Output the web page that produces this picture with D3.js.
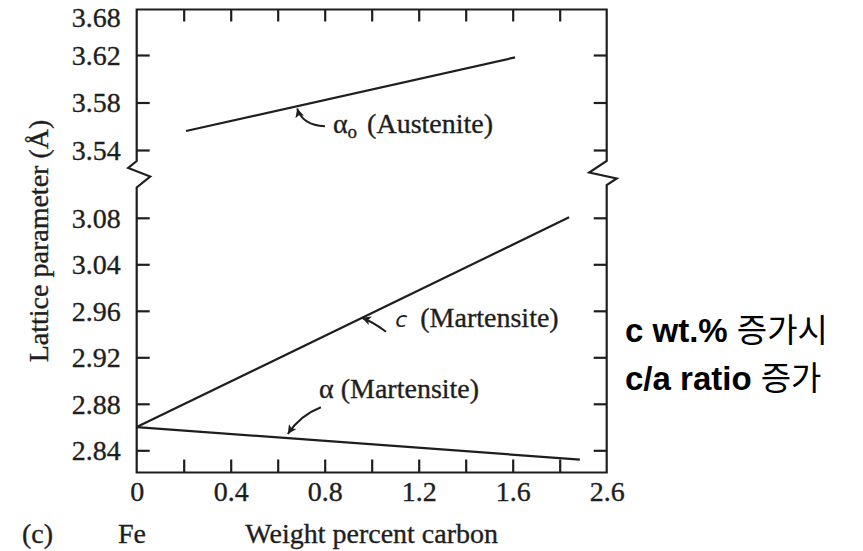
<!DOCTYPE html>
<html>
<head>
<meta charset="utf-8">
<script src="https://cdn.jsdelivr.net/npm/d3@7/dist/d3.min.js"></script>
<style>
  html, body { margin: 0; padding: 0; background: #ffffff; }
  svg { display: block; }
  .serif { font-family: "Liberation Serif", "DejaVu Serif", serif; fill: #1e1e1e; stroke: #1e1e1e; stroke-width: 0.35px; }
</style>
</head>
<body>
<svg id="chart" width="863" height="551"></svg>
<script>
// ---------------- data ----------------
const xTickValues = [0, 0.4, 0.8, 1.2, 1.6, 2.0];
const xTickLabels = ["0", "0.4", "0.8", "1.2", "1.6", "2.6"];
const xMinorTicks = [0.2, 0.4, 0.6, 0.8, 1.0, 1.2, 1.4, 1.6, 1.8];

const yLowerTicks = [2.84, 2.88, 2.92, 2.96, 3.04, 3.08];
const yUpperTicks = [3.54, 3.58, 3.62, 3.68];
const yTickLabels = ["2.84", "2.88", "2.92", "2.96", "3.04", "3.08", "3.54", "3.58", "3.62", "3.68"];

// series: [x (wt% C), lattice parameter (Å)]
const austenite   = [[0.21, 3.556], [1.61, 3.618]];
const cMartensite = [[0, 2.86], [1.84, 3.083]];
const aMartensite = [[0, 2.86], [1.886, 2.832]];

// annotation anchors (data units)
const annAustenite = { text: [0.835, 3.554], tail: [0.801, 3.560], ctrl: [0.704, 3.561], tip: [0.683, 3.575] };
const annCMart     = { text: [1.10, 2.946], tail: [1.061, 2.942], ctrl: [1.00, 2.951], tip: [0.958, 2.954] };
const annAMart     = { text: [0.776, 2.885], tail: [0.784, 2.877], ctrl: [0.695, 2.870], tip: [0.643, 2.854] };

const noteLines = [["c wt.% ", "증가시"], ["c/a ratio ", "증가"]];

// ---------------- layout ----------------
const L = 136.7, R = 606.7, T = 9.5, B = 472.5;
const svg = d3.select("#chart");

const x = d3.scaleLinear().domain([0, 2.0]).range([L, R]);
const lowerRange = d3.range(yLowerTicks.length).map(i => 450.3 - i * 46.5);
const upperRange = [150, 102.5, 55, T];
const y = d3.scaleLinear()
  .domain(yLowerTicks.concat(yUpperTicks))
  .range(lowerRange.concat(upperRange));

const ink = "#1e1e1e";
const FS = 28;

// frame with axis breaks
const brkTop = 161, brkBot = 187.5;
const frame = d3.path();
frame.moveTo(L, T);
frame.lineTo(L, brkTop);
frame.lineTo(L - 8.5, 168);
frame.lineTo(L + 13.5, 176.5);
frame.lineTo(L, brkBot);
frame.lineTo(L, B);
frame.lineTo(R, B);
frame.lineTo(R, brkBot - 2.5);
frame.lineTo(R + 10, 178.5);
frame.lineTo(R - 17.5, 172.5);
frame.lineTo(R, brkTop);
frame.lineTo(R, T);
frame.closePath();
svg.append("path").attr("d", frame.toString())
  .attr("fill", "none").attr("stroke", ink).attr("stroke-width", 2.2)
  .attr("stroke-linejoin", "miter");

// y axis (left) - inward ticks, labels
const yTicksAll = yLowerTicks.concat(yUpperTicks);
const yAxisLeft = d3.axisLeft(y)
  .tickValues(yTicksAll)
  .tickFormat((d, i) => yTickLabels[i])
  .tickSize(-13).tickPadding(16);
const gyl = svg.append("g").attr("transform", `translate(${L},0)`).call(yAxisLeft);
gyl.select(".domain").remove();
gyl.selectAll(".tick line").attr("stroke", ink).attr("stroke-width", 2.2)
  .filter(d => y(d) <= T + 1).remove();
gyl.selectAll(".tick text").attr("class", "serif").attr("font-size", FS)
  .attr("fill", ink).attr("dy", d => y(d) <= T + 1 ? "0.6em" : "0.33em");

// y axis (right) - inward ticks only
const yAxisRight = d3.axisRight(y)
  .tickValues(yTicksAll.filter(d => y(d) > T + 1))
  .tickFormat("").tickSize(-13);
const gyr = svg.append("g").attr("transform", `translate(${R},0)`).call(yAxisRight);
gyr.select(".domain").remove();
gyr.selectAll(".tick line").attr("stroke", ink).attr("stroke-width", 2.2);

// x axis bottom - minor inward ticks
const gxb = svg.append("g").attr("transform", `translate(0,${B})`)
  .call(d3.axisBottom(x).tickValues(xMinorTicks).tickFormat("").tickSize(-13));
gxb.select(".domain").remove();
gxb.selectAll(".tick line").attr("stroke", ink).attr("stroke-width", 2.2);

// x axis bottom - labels
const gxl = svg.append("g").attr("transform", `translate(0,${B})`)
  .call(d3.axisBottom(x).tickValues(xTickValues)
    .tickFormat((d, i) => xTickLabels[i]).tickSize(0).tickPadding(9));
gxl.select(".domain").remove();
gxl.selectAll(".tick text").attr("class", "serif").attr("font-size", FS).attr("fill", ink);

// x axis top - minor inward ticks
const gxt = svg.append("g").attr("transform", `translate(0,${T})`)
  .call(d3.axisTop(x).tickValues(xMinorTicks).tickFormat("").tickSize(-12));
gxt.select(".domain").remove();
gxt.selectAll(".tick line").attr("stroke", ink).attr("stroke-width", 2.2);

// series lines
const line = d3.line().x(d => x(d[0])).y(d => y(d[1]));
[austenite, cMartensite, aMartensite].forEach(s => {
  svg.append("path").datum(s).attr("d", line)
    .attr("fill", "none").attr("stroke", ink).attr("stroke-width", 2.2);
});

// arrow marker
svg.append("defs").append("marker")
  .attr("id", "ah").attr("markerUnits", "userSpaceOnUse")
  .attr("viewBox", "0 0 10 10").attr("refX", 10).attr("refY", 5)
  .attr("markerWidth", 10).attr("markerHeight", 9).attr("orient", "auto")
  .append("path").attr("d", "M0,0 L10,5 L0,10 L2.5,5 Z").attr("fill", ink);

function arrow(a) {
  const p = d3.path();
  p.moveTo(x(a.tail[0]), y(a.tail[1]));
  p.quadraticCurveTo(x(a.ctrl[0]), y(a.ctrl[1]), x(a.tip[0]), y(a.tip[1]));
  svg.append("path").attr("d", p.toString()).attr("fill", "none")
    .attr("stroke", ink).attr("stroke-width", 2).attr("marker-end", "url(#ah)");
}
[annAustenite, annCMart, annAMart].forEach(arrow);

// annotation texts
const tA = svg.append("text").attr("class", "serif").attr("font-size", FS)
  .attr("x", x(annAustenite.text[0])).attr("y", y(annAustenite.text[1]));
tA.append("tspan").text("α");
tA.append("tspan").attr("font-size", 19).attr("dy", 5).text("o");
tA.append("tspan").attr("dy", -5).attr("dx", 3).text(" (Austenite)");

const tC = svg.append("text").attr("class", "serif").attr("font-size", FS)
  .attr("x", x(annCMart.text[0])).attr("y", y(annCMart.text[1]));
tC.append("tspan").attr("font-style", "italic").attr("font-family", "'DejaVu Sans', sans-serif")
  .attr("font-size", 22).attr("stroke-width", 0).text("c");
tC.append("tspan").attr("dx", 6).text(" (Martensite)");

svg.append("text").attr("class", "serif").attr("font-size", FS)
  .attr("x", x(annAMart.text[0])).attr("y", y(annAMart.text[1]))
  .text("α (Martensite)");

// axis titles
svg.append("text").attr("class", "serif").attr("font-size", FS)
  .attr("transform", `translate(48,${(T + B) / 2}) rotate(-90)`)
  .attr("text-anchor", "middle").text("Lattice parameter (Å)");
svg.append("text").attr("class", "serif").attr("font-size", FS)
  .attr("x", (L + R) / 2).attr("y", 543).attr("text-anchor", "middle")
  .text("Weight percent carbon");
svg.append("text").attr("class", "serif").attr("font-size", FS)
  .attr("x", 118).attr("y", 543).text("Fe");
svg.append("text").attr("class", "serif").attr("font-size", FS)
  .attr("x", 22).attr("y", 543).text("(c)");

// side note (Korean)
noteLines.forEach((ln, i) => {
  const t = svg.append("text").attr("x", 625).attr("y", 342 + i * 48)
    .attr("font-size", 33).attr("fill", "#000")
    .attr("font-family", "'Liberation Sans', Arial, 'Noto Sans CJK KR', sans-serif");
  t.append("tspan").attr("font-weight", "bold").text(ln[0]);
  t.append("tspan").attr("font-family", "'Noto Sans CJK KR', sans-serif")
    .attr("font-size", 33).attr("font-weight", 400).text(ln[1]);
});
</script>
</body>
</html>
